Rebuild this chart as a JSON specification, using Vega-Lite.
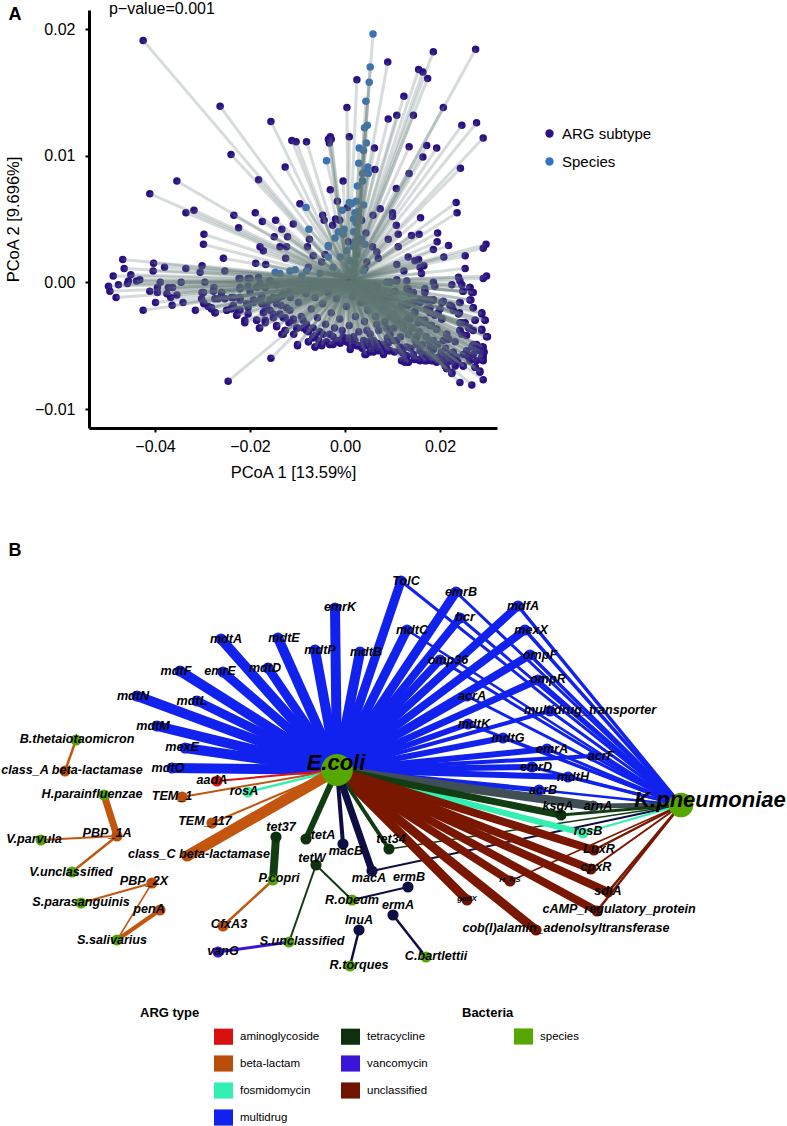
{"$schema":"https://vega.github.io/schema/vega-lite/v6.json","padding":{"left":0,"top":0,"right":0,"bottom":0},"background":"white","config":{"view":{"stroke":null},"font":"Liberation Sans","text":{"font":"Liberation Sans"},"axis":{"labelFont":"Liberation Sans","titleFont":"Liberation Sans"},"legend":{"labelFont":"Liberation Sans","titleFont":"Liberation Sans"}},"spacing":61,"resolve":{"scale":{"color":"independent","fill":"independent"},"legend":{"color":"independent","fill":"independent"}},
"datasets":{
"arg":[{"x":-0.0425,"y":0.0191},{"x":-0.0263,"y":0.0139},{"x":-0.0156,"y":0.0127},{"x":-0.0112,"y":0.0112},{"x":-0.0103,"y":0.0111},{"x":-0.0081,"y":0.0111},{"x":-0.024,"y":0.0101},{"x":-0.0126,"y":0.0091},{"x":-0.0182,"y":0.0081},{"x":-0.0354,"y":0.008},{"x":-0.0411,"y":0.007},{"x":-0.0335,"y":0.0055},{"x":-0.0318,"y":0.0057},{"x":-0.0234,"y":0.0053},{"x":-0.0189,"y":0.0055},{"x":-0.0174,"y":0.0048},{"x":-0.0146,"y":0.0049},{"x":-0.0109,"y":0.0046},{"x":-0.0224,"y":0.0043},{"x":-0.0133,"y":0.0042},{"x":-0.0297,"y":0.0038},{"x":-0.0298,"y":0.003},{"x":-0.0149,"y":0.0036},{"x":-0.0121,"y":0.0036},{"x":-0.0179,"y":0.0028},{"x":-0.0172,"y":0.0025},{"x":-0.0137,"y":0.0028},{"x":-0.0123,"y":0.0028},{"x":-0.0095,"y":0.0062},{"x":-0.0075,"y":0.0034},{"x":-0.0079,"y":0.0028},{"x":-0.0047,"y":0.0053},{"x":-0.0044,"y":0.0049},{"x":-0.0026,"y":0.0045},{"x":-0.002,"y":0.005},{"x":-0.0011,"y":0.0049},{"x":-0.0016,"y":0.0064},{"x":0.0005,"y":0.0059},{"x":-0.0031,"y":0.0073},{"x":-0.0004,"y":0.008},{"x":-0.0035,"y":0.0113},{"x":-0.0031,"y":0.0115},{"x":-0.0033,"y":0.011},{"x":-0.0029,"y":0.0113},{"x":0.0009,"y":0.0115},{"x":0.0004,"y":0.0138},{"x":0.0025,"y":0.016},{"x":0.009,"y":0.0174},{"x":0.0155,"y":0.0168},{"x":0.0164,"y":0.0166},{"x":0.0174,"y":0.0161},{"x":0.0186,"y":0.0182},{"x":0.0275,"y":0.0184},{"x":0.0124,"y":0.0147},{"x":0.0207,"y":0.0138},{"x":0.0091,"y":0.0129},{"x":0.0109,"y":0.0132},{"x":0.0144,"y":0.0132},{"x":0.0246,"y":0.0124},{"x":0.0277,"y":0.0126},{"x":0.0291,"y":0.0114},{"x":0.0062,"y":0.0106},{"x":0.0135,"y":0.0107},{"x":0.0172,"y":0.0108},{"x":0.0193,"y":0.0106},{"x":0.0164,"y":0.0099},{"x":0.0063,"y":0.0089},{"x":0.0135,"y":0.0086},{"x":0.0243,"y":0.009},{"x":0.0108,"y":0.0074},{"x":0.0074,"y":0.0058},{"x":0.0059,"y":0.0053},{"x":0.01,"y":0.0055},{"x":0.01,"y":0.0052},{"x":0.0159,"y":0.0051},{"x":0.0234,"y":0.0063},{"x":0.0236,"y":0.0055},{"x":0.0108,"y":0.0045},{"x":0.0112,"y":0.0038},{"x":0.014,"y":0.0037},{"x":0.0156,"y":0.0038},{"x":0.0195,"y":0.0039},{"x":0.0194,"y":0.0032},{"x":0.0091,"y":0.0034},{"x":0.0112,"y":0.0028},{"x":0.0218,"y":0.0029},{"x":0.0297,"y":0.003},{"x":0.0291,"y":0.0027},{"x":0.0044,"y":0.0039},{"x":0.0035,"y":0.0049},{"x":0.0058,"y":0.0028},{"x":0.0007,"y":0.0032},{"x":-0.0042,"y":0.0022},
{"x":-0.0468,"y":0.0018},{"x":-0.0465,"y":0.0011},{"x":-0.0488,"y":0.0005},{"x":-0.0451,"y":0.0006},{"x":-0.0456,"y":0.0001},{"x":-0.0458,"y":-0.0001},{"x":-0.0477,"y":-0.0002},{"x":-0.0498,"y":-0.0003},{"x":-0.0495,"y":-0.0007},{"x":-0.0482,"y":-0.0012},{"x":-0.0439,"y":0.0001},{"x":-0.0432,"y":0.0002},{"x":-0.0425,"y":-0.0022},{"x":-0.0403,"y":0.0015},{"x":-0.0404,"y":0.0009},{"x":-0.038,"y":0.0012},{"x":-0.0335,"y":0.0011},{"x":-0.0301,"y":0.0013},{"x":-0.0305,"y":0.0008},{"x":-0.0256,"y":0.0019},{"x":-0.0253,"y":0.0009},{"x":-0.0389,"y":0},{"x":-0.0395,"y":-0.0004},{"x":-0.0411,"y":-0.0007},{"x":-0.0395,"y":-0.0008},{"x":-0.0372,"y":-0.0004},{"x":-0.0363,"y":-0.0004},{"x":-0.0375,"y":-0.0009},{"x":-0.0354,"y":-0.001},{"x":-0.0367,"y":-0.0012},{"x":-0.0399,"y":-0.0016},{"x":-0.0364,"y":-0.0018},{"x":-0.0341,"y":-0.0016},{"x":-0.0345,"y":0},{"x":-0.0315,"y":-0.0022},{"x":-0.0295,"y":0},{"x":-0.0301,"y":-0.0008},{"x":-0.0302,"y":-0.0013},{"x":-0.0297,"y":-0.0017},{"x":-0.0288,"y":-0.0019},{"x":-0.0281,"y":-0.0021},{"x":-0.0273,"y":-0.0024},{"x":-0.0277,"y":-0.0007},{"x":-0.026,"y":-0.0008},{"x":-0.0267,"y":-0.0013},{"x":-0.0239,"y":-0.0012},{"x":-0.0249,"y":-0.0022},{"x":-0.0239,"y":-0.0021},{"x":-0.0228,"y":-0.0026},{"x":-0.0221,"y":-0.0022},{"x":-0.0211,"y":-0.003},{"x":-0.0204,"y":-0.002},
{"x":-0.0223,"y":0.0003},{"x":-0.0204,"y":0.0003},{"x":-0.0182,"y":0.0004},{"x":-0.0221,"y":-0.0004},{"x":-0.02,"y":-0.0007},{"x":-0.0179,"y":-0.0001},{"x":-0.0159,"y":0.0001},{"x":-0.0179,"y":-0.0014},{"x":-0.0165,"y":-0.0018},{"x":-0.0186,"y":-0.003},{"x":-0.018,"y":-0.0036},{"x":-0.0168,"y":-0.003},{"x":-0.0144,"y":-0.0035},{"x":-0.013,"y":-0.0041},{"x":-0.0126,"y":-0.0038},{"x":-0.01,"y":-0.0036},{"x":-0.0081,"y":-0.0038},{"x":-0.0077,"y":-0.0047},{"x":-0.01,"y":-0.0049},{"x":-0.0063,"y":-0.0051},{"x":-0.0049,"y":-0.0049},{"x":-0.0156,"y":-0.006},{"x":-0.0246,"y":-0.0078},{"x":-0.0032,"y":-0.0049},{"x":-0.0018,"y":-0.0047},{"x":0.0011,"y":-0.0049},{"x":0.0028,"y":-0.005},{"x":0.0044,"y":-0.0057},{"x":0.0053,"y":-0.0055},{"x":0.0063,"y":-0.0053},{"x":0.007,"y":-0.0054},{"x":0.0088,"y":-0.0053},{"x":0.0095,"y":-0.0054},{"x":0.013,"y":-0.0059},{"x":0.0126,"y":-0.0063},{"x":0.0133,"y":-0.0063},{"x":0.0158,"y":-0.0062},{"x":0.0172,"y":-0.0062},{"x":0.0186,"y":-0.0062},{"x":0.0211,"y":-0.0066},{"x":0.0214,"y":-0.0068},{"x":0.0225,"y":-0.0072},{"x":0.0242,"y":-0.0079},{"x":0.0267,"y":-0.0081},{"x":0.0291,"y":-0.0077},{"x":0.0284,"y":-0.0071},{"x":0.0274,"y":-0.0067},{"x":0.0249,"y":-0.0066},
{"x":0.0298,"y":0.0005},{"x":0.0291,"y":0.0003},{"x":0.0186,"y":0.0026},{"x":0.0253,"y":0.0021},{"x":0.0208,"y":0.002},{"x":0.0155,"y":0.0018},{"x":0.0147,"y":0.0017},{"x":0.0133,"y":0.002},{"x":0.0166,"y":0.0013},{"x":0.0158,"y":0.0012},{"x":0.0161,"y":0.0007},{"x":0.0124,"y":0.0009},{"x":0.0109,"y":0.0014},{"x":0.0067,"y":0.0024},{"x":0.007,"y":0.0019},{"x":0.0046,"y":0.0016},{"x":0.0042,"y":0.0011},{"x":0.0253,"y":0.0011},{"x":0.0239,"y":0.0004},{"x":0.0242,"y":0.0001},{"x":0.0246,"y":-0.0002},{"x":0.0249,"y":-0.0007},{"x":0.0225,"y":-0.0002},{"x":0.0186,"y":0},{"x":0.0189,"y":-0.0003},{"x":0.013,"y":0.0001},{"x":0.0109,"y":0.0002},{"x":0.0095,"y":0},{"x":0.0088,"y":0},{"x":0.0067,"y":-0.0003},{"x":0.0133,"y":-0.0005},{"x":0.0144,"y":-0.0008},{"x":0.0168,"y":-0.0005},{"x":0.0168,"y":-0.0008},{"x":0.0263,"y":-0.0004},{"x":0.0267,"y":-0.0008},{"x":0.0265,"y":-0.0014},{"x":0.0242,"y":-0.0016},{"x":0.0207,"y":-0.0015},{"x":0.0186,"y":-0.0014},{"x":0.0179,"y":-0.0014},{"x":0.0168,"y":-0.0013},{"x":0.0123,"y":-0.0018},{"x":0.013,"y":-0.0017},{"x":0.0144,"y":-0.0016},{"x":0.0158,"y":-0.0016},{"x":0.0147,"y":-0.0023},{"x":0.0172,"y":-0.0021},{"x":0.0196,"y":-0.0024},{"x":0.0204,"y":-0.0029},{"x":0.0225,"y":-0.0019},{"x":0.0241,"y":-0.0024},{"x":0.027,"y":-0.002},{"x":0.0288,"y":-0.0025},{"x":0.0295,"y":-0.003},{"x":0.0274,"y":-0.003},{"x":0.026,"y":-0.0036},{"x":0.0246,"y":-0.0032},{"x":0.0242,"y":-0.0038},{"x":0.0246,"y":-0.0041},{"x":0.0288,"y":-0.0037},{"x":0.03,"y":-0.0043},{"x":0.027,"y":-0.0038},{"x":0.0214,"y":-0.0041},{"x":0.0218,"y":-0.0045},{"x":0.0193,"y":-0.0037},{"x":0.0179,"y":-0.0034},{"x":0.0168,"y":-0.0032},{"x":0.0158,"y":-0.003},{"x":0.0137,"y":-0.0029},{"x":0.0186,"y":-0.0046},{"x":0.0291,"y":-0.0051},{"x":0.0293,"y":-0.0055},{"x":0.0291,"y":-0.0059},{"x":0.0284,"y":-0.0054},{"x":0.027,"y":-0.0057},{"x":0.0267,"y":-0.0051},{"x":0.0277,"y":-0.0049},{"x":0.026,"y":-0.0059},{"x":0.0249,"y":-0.0057},{"x":0.0235,"y":-0.0059},{"x":0.0221,"y":-0.0062},{"x":0.0207,"y":-0.0058},{"x":0.02,"y":-0.0061},{"x":0.0193,"y":-0.0063},{"x":0.0232,"y":-0.0064},{"x":0.0256,"y":-0.0054},{"x":0.0277,"y":-0.0062},{"x":0.0288,"y":-0.0059},{"x":0.0102,"y":-0.0046},{"x":0.0116,"y":-0.0051},{"x":0.0144,"y":-0.0057},{"x":0.0165,"y":-0.0057},{"x":0.0081,"y":-0.0049},{"x":0.006,"y":-0.0046},{"x":0.0039,"y":-0.0046},{"x":0.0018,"y":-0.0043},{"x":-0.0004,"y":-0.0043},{"x":-0.0025,"y":-0.0043},{"x":-0.0046,"y":-0.0041},{"x":-0.0067,"y":-0.0036},{"x":-0.0088,"y":-0.003},{"x":-0.0109,"y":-0.003},{"x":-0.013,"y":-0.0028},{"x":-0.0151,"y":-0.0025},{"x":-0.0172,"y":-0.0024},{"x":-0.0144,"y":-0.0017},{"x":-0.0123,"y":-0.002},{"x":-0.0151,"y":-0.0012},{"x":-0.013,"y":-0.0009},{"x":-0.0193,"y":-0.0016},{"x":-0.0207,"y":-0.0017},{"x":-0.0235,"y":-0.0018},{"x":-0.0221,"y":-0.0014},{"x":-0.0188,"y":0.0015},{"x":-0.0167,"y":0.0014},{"x":-0.0125,"y":0.0019},{"x":-0.0067,"y":0.0021},{"x":-0.0077,"y":0.0012},{"x":-0.0049,"y":0.0016},{"x":0.0081,"y":-0.0014},{"x":0.0102,"y":-0.0025},{"x":0.0123,"y":-0.0036},{"x":0.0151,"y":-0.0043},{"x":0.0179,"y":-0.0051},{"x":0.0088,"y":-0.0036},{"x":0.0067,"y":-0.0033},{"x":0.0046,"y":-0.0038},
{"x":0.0004,"y":-0.0047},{"x":0.0018,"y":-0.0049},{"x":0.0032,"y":-0.005},{"x":0.0042,"y":-0.0057},{"x":0.006,"y":-0.0055},{"x":0.0046,"y":-0.005},{"x":0.0091,"y":-0.0054},{"x":0.0081,"y":-0.0049},{"x":0.0119,"y":-0.0062},{"x":0.0133,"y":-0.0063},{"x":0.013,"y":-0.0058},{"x":0.0151,"y":-0.0061},{"x":0.0168,"y":-0.0062},{"x":0.0182,"y":-0.0062},{"x":0.0214,"y":-0.0068},{"x":0.0225,"y":-0.0071},{"x":0.0232,"y":-0.0066},{"x":0.0249,"y":-0.0066},{"x":0.0274,"y":-0.0067},{"x":0.0284,"y":-0.007},{"x":0.0291,"y":-0.0062},{"x":0.0291,"y":-0.0057},{"x":0.0288,"y":-0.0051},{"x":0.027,"y":-0.0049},{"x":0.0277,"y":-0.0054},{"x":0.0253,"y":-0.0057},{"x":0.0263,"y":-0.0062},{"x":0.0235,"y":-0.0062},{"x":0.0221,"y":-0.0057},{"x":0.0207,"y":-0.0046},{"x":0.0214,"y":-0.0041},{"x":0.0232,"y":-0.0047},{"x":0.0256,"y":-0.0042},{"x":0.0298,"y":-0.0043},{"x":0.0288,"y":-0.0038},{"x":0.0274,"y":-0.003},{"x":0.0295,"y":-0.003},{"x":0.0288,"y":-0.0024},{"x":0.027,"y":-0.002},{"x":0.0263,"y":-0.0014},{"x":0.027,"y":-0.0008},{"x":0.0263,"y":-0.0004},{"x":0.0248,"y":-0.0007},{"x":0.0242,"y":-0.0016},{"x":0.0239,"y":-0.0025},{"x":0.0253,"y":-0.0032},{"x":0.0262,"y":-0.0036},{"x":0.0242,"y":-0.0032},{"x":0.0242,"y":-0.0038},{"x":0.0228,"y":-0.0022},{"x":0.0221,"y":-0.0018},{"x":0.0204,"y":-0.0016},{"x":0.02,"y":-0.0021},{"x":0.0179,"y":-0.002},{"x":0.0179,"y":-0.0024},{"x":0.0189,"y":-0.0026},{"x":0.0204,"y":-0.0029},{"x":0.0193,"y":-0.0037},{"x":0.0182,"y":-0.0034},{"x":0.0168,"y":-0.003},{"x":0.0154,"y":-0.0032},{"x":0.0147,"y":-0.0024},{"x":0.0133,"y":-0.0028},{"x":0.0119,"y":-0.0018},{"x":0.0133,"y":-0.0018},{"x":0.0144,"y":-0.0016},{"x":0.0158,"y":-0.0014},{"x":0.0172,"y":-0.0014},{"x":0.0186,"y":-0.0014},{"x":0.0168,"y":-0.0007},{"x":0.0137,"y":-0.0009},{"x":0.013,"y":-0.0005},{"x":0.0109,"y":0.0001},{"x":0.0105,"y":-0.0007},{"x":0.0081,"y":-0.0011},{"x":0.0095,"y":-0.0012},{"x":0.0067,"y":-0.0003},{"x":0.0095,"y":-0.0041},{"x":0.0109,"y":-0.0046},{"x":0.013,"y":-0.0051},{"x":0.0158,"y":-0.0054},{"x":0.0175,"y":-0.0057},{"x":0.0193,"y":-0.0061},{"x":0.0207,"y":-0.0063},{"x":0.0151,"y":-0.0049},{"x":0.0116,"y":-0.0054},{"x":0.0081,"y":-0.0057},{"x":0.006,"y":-0.005},{"x":0.0025,"y":-0.005},{"x":0.0011,"y":-0.0053},{"x":-0.001,"y":-0.0048},
{"x":-0.0276,"y":-0.0004},{"x":-0.0298,"y":-0.0008},{"x":-0.026,"y":-0.0008},{"x":-0.0253,"y":-0.0013},{"x":-0.0274,"y":-0.0013},{"x":-0.0298,"y":-0.0016},{"x":-0.0281,"y":-0.002},{"x":-0.0274,"y":-0.0024},{"x":-0.0249,"y":-0.0022},{"x":-0.0239,"y":-0.002},{"x":-0.0225,"y":-0.0022},{"x":-0.0228,"y":-0.0026},{"x":-0.0204,"y":-0.0025},{"x":-0.0211,"y":-0.0032},{"x":-0.0235,"y":-0.0012},{"x":-0.0221,"y":-0.0012},{"x":-0.0221,"y":-0.0005},{"x":-0.0204,"y":-0.0003},{"x":-0.0221,"y":0.0003},{"x":-0.02,"y":0.0003},{"x":-0.0158,"y":0.0001},{"x":-0.0186,"y":-0.0004},{"x":-0.0168,"y":-0.0004},{"x":-0.0144,"y":-0.0002},{"x":-0.0175,"y":-0.0011},{"x":-0.0193,"y":-0.0014},{"x":-0.0175,"y":-0.0017},{"x":-0.0158,"y":-0.0014},{"x":-0.014,"y":-0.0012},{"x":-0.0133,"y":-0.0011},{"x":-0.0116,"y":-0.0007},{"x":-0.0186,"y":-0.003},{"x":-0.0168,"y":-0.0032},{"x":-0.018,"y":-0.0036},{"x":-0.0144,"y":-0.0034},{"x":-0.0126,"y":-0.0038},{"x":-0.0133,"y":-0.0041},{"x":-0.0102,"y":-0.0036},{"x":-0.0081,"y":-0.0033},{"x":-0.0077,"y":-0.0039},{"x":-0.0063,"y":-0.0042},{"x":-0.01,"y":-0.005},{"x":-0.0077,"y":-0.0047},{"x":-0.0063,"y":-0.0051},{"x":-0.0049,"y":-0.005},{"x":-0.0032,"y":-0.0049},{"x":-0.0018,"y":-0.0046},{"x":0.0004,"y":-0.0047},{"x":-0.0158,"y":-0.0022},{"x":-0.0137,"y":-0.0025},{"x":-0.0116,"y":-0.0022},{"x":-0.0088,"y":-0.0036},{"x":-0.0053,"y":-0.0039},{"x":-0.0032,"y":-0.0041},{"x":-0.0168,"y":-0.0022},{"x":-0.0151,"y":-0.0028},{"x":-0.0126,"y":-0.0028},{"x":-0.0109,"y":-0.0029},
{"x":-0.0115,"y":-0.0012},{"x":-0.0098,"y":-0.0016},{"x":-0.0082,"y":-0.0009},{"x":-0.0071,"y":-0.0021},{"x":-0.0063,"y":-0.0012},{"x":-0.0058,"y":-0.0028},{"x":-0.0047,"y":-0.0017},{"x":-0.0041,"y":-0.0033},{"x":-0.0036,"y":-0.0008},{"x":-0.0029,"y":-0.0024},{"x":-0.0022,"y":-0.0036},{"x":-0.0018,"y":-0.0013},{"x":-0.0011,"y":-0.0029},{"x":-0.0006,"y":-0.0038},{"x":0.0003,"y":-0.0019},{"x":0.0009,"y":-0.0034},{"x":0.0016,"y":-0.0011},{"x":0.0022,"y":-0.0027},{"x":0.0029,"y":-0.0039},{"x":0.0034,"y":-0.0016},{"x":0.0041,"y":-0.0031},{"x":0.0048,"y":-0.0022},{"x":0.0053,"y":-0.0041},{"x":0.0059,"y":-0.0012},{"x":0.0064,"y":-0.0027},{"x":0.0071,"y":-0.0038},{"x":0.0077,"y":-0.0021},{"x":0.0084,"y":-0.0031},{"x":0.0089,"y":-0.0044},{"x":0.0096,"y":-0.0027},{"x":0.0103,"y":-0.0036},{"x":0.0111,"y":-0.0031},{"x":0.0117,"y":-0.0043},{"x":0.0126,"y":-0.0031},{"x":0.0134,"y":-0.0041},{"x":0.0141,"y":-0.0036},{"x":0.0148,"y":-0.0046},{"x":0.0156,"y":-0.0039},{"x":0.0163,"y":-0.0049},{"x":0.0171,"y":-0.0043},{"x":0.0178,"y":-0.0047},{"x":0.0186,"y":-0.0053},{"x":0.0195,"y":-0.0049},{"x":0.0203,"y":-0.0055},{"x":0.0212,"y":-0.0052},{"x":0.0219,"y":-0.0059},{"x":0.0228,"y":-0.0055},{"x":0.0238,"y":-0.0063},{"x":-0.0108,"y":-0.0041},{"x":-0.0092,"y":-0.0027},{"x":-0.0135,"y":-0.0018},{"x":-0.0118,"y":-0.0032},{"x":-0.0068,"y":-0.0044},{"x":-0.0055,"y":-0.0046},{"x":-0.0039,"y":-0.0047},{"x":-0.0025,"y":-0.0049},{"x":-0.0012,"y":-0.0046},{"x":0.0008,"y":-0.0044},{"x":0.0021,"y":-0.0046},{"x":0.0036,"y":-0.0052},{"x":0.0049,"y":-0.0047},{"x":0.0068,"y":-0.0048},{"x":0.0074,"y":-0.0052},{"x":0.0091,"y":-0.0048},{"x":0.0104,"y":-0.0055},{"x":0.0122,"y":-0.0056},{"x":0.0139,"y":-0.0052},{"x":0.0146,"y":-0.0061},{"x":0.0163,"y":-0.0058},{"x":0.0181,"y":-0.0057},{"x":0.0197,"y":-0.0059},{"x":0.0216,"y":-0.0063}],
"species":[{"x":0.0059,"y":0.0196},{"x":0.0053,"y":0.017},{"x":0.0051,"y":0.0158},{"x":0.0044,"y":0.0143},{"x":0.0047,"y":0.0124},{"x":0.0041,"y":0.0122},{"x":0.0045,"y":0.011},{"x":0.003,"y":0.0106},{"x":0.0039,"y":0.0104},{"x":0.0029,"y":0.0094},{"x":-0.0039,"y":0.0096},{"x":0.0048,"y":0.0091},{"x":0.0037,"y":0.0086},{"x":0.0049,"y":0.0086},{"x":0.0042,"y":0.0087},{"x":0.0037,"y":0.008},{"x":0.0026,"y":0.0076},{"x":0.0023,"y":0.0064},{"x":0.0009,"y":0.0063},{"x":0.0014,"y":0.0062},{"x":0.0039,"y":0.0061},{"x":-0.0082,"y":0.0059},{"x":-0.0006,"y":0.0057},{"x":0.0021,"y":0.0055},{"x":0.0028,"y":0.0056},{"x":0.0025,"y":0.0053},{"x":0.003,"y":0.0051},{"x":0.0018,"y":0.005},{"x":0.0023,"y":0.0047},{"x":0.0028,"y":0.0049},{"x":-0.0076,"y":0.0042},{"x":-0.0002,"y":0.0042},{"x":-0.0014,"y":0.004},{"x":-0.0004,"y":0.0038},{"x":0.0018,"y":0.004},{"x":-0.0021,"y":0.0035},{"x":0.0028,"y":0.0035},{"x":0.0035,"y":0.0034},{"x":0.0021,"y":0.0032},{"x":0.0042,"y":0.003},{"x":-0.0035,"y":0.0028},{"x":-0.0147,"y":0.0008},{"x":-0.0137,"y":0.0007},{"x":-0.0116,"y":0.0009},{"x":-0.0105,"y":0.001},{"x":-0.0091,"y":0.0005},{"x":-0.0081,"y":0.0009},{"x":-0.0053,"y":0.0007},{"x":-0.0035,"y":0.002},{"x":-0.0035,"y":0.0029},{"x":-0.001,"y":0.002},{"x":0.0004,"y":0.0025},{"x":0.0018,"y":0.0028},{"x":0.0028,"y":0.0032},{"x":0.0039,"y":0.0009},{"x":-0.0025,"y":0.0012},{"x":0.0011,"y":0.0017},{"x":0.0025,"y":0.0022}],
"nodes":[
{"id":"E.coli","t":"species","deg":60,"x":337,"y":767,"lx":336,"ly":760},
{"id":"K.pneumoniae","t":"species","deg":33,"x":681,"y":802,"lx":710,"ly":797},
{"id":"B.thetaiotaomicron","t":"species","deg":1,"x":76,"y":737,"lx":77,"ly":736},
{"id":"H.parainfluenzae","t":"species","deg":1,"x":104,"y":792,"lx":92,"ly":791},
{"id":"V.parvula","t":"species","deg":1,"x":41,"y":837,"lx":34,"ly":836},
{"id":"V.unclassified","t":"species","deg":1,"x":72,"y":869,"lx":71,"ly":869},
{"id":"S.parasanguinis","t":"species","deg":1,"x":81,"y":900,"lx":81,"ly":899},
{"id":"S.salivarius","t":"species","deg":1,"x":117,"y":937,"lx":112,"ly":937},
{"id":"P.copri","t":"species","deg":1,"x":273,"y":877,"lx":279,"ly":875},
{"id":"S.unclassified","t":"species","deg":1,"x":289,"y":939,"lx":302,"ly":938},
{"id":"R.obeum","t":"species","deg":1,"x":352,"y":897,"lx":352,"ly":897},
{"id":"R.torques","t":"species","deg":1,"x":350,"y":963,"lx":359,"ly":962},
{"id":"C.bartlettii","t":"species","deg":1,"x":426,"y":954,"lx":436,"ly":953},
{"id":"mdtO","t":"multidrug","deg":1,"x":172,"y":765,"lx":168,"ly":765},
{"id":"mexE","t":"multidrug","deg":1,"x":185,"y":745,"lx":182,"ly":744},
{"id":"mdtM","t":"multidrug","deg":1,"x":157,"y":723,"lx":153,"ly":723},
{"id":"mdtN","t":"multidrug","deg":1,"x":137,"y":693,"lx":133,"ly":693},
{"id":"mdtL","t":"multidrug","deg":1,"x":197,"y":698,"lx":192,"ly":698},
{"id":"mdtF","t":"multidrug","deg":1,"x":180,"y":668,"lx":176,"ly":668},
{"id":"emrE","t":"multidrug","deg":1,"x":223,"y":669,"lx":220,"ly":668},
{"id":"mdtD","t":"multidrug","deg":1,"x":268,"y":665,"lx":265,"ly":665},
{"id":"mdtA","t":"multidrug","deg":1,"x":221,"y":636,"lx":226,"ly":636},
{"id":"mdtE","t":"multidrug","deg":1,"x":278,"y":635,"lx":284,"ly":635},
{"id":"mdtP","t":"multidrug","deg":1,"x":315,"y":647,"lx":320,"ly":647},
{"id":"mdtB","t":"multidrug","deg":1,"x":360,"y":649,"lx":366,"ly":649},
{"id":"emrK","t":"multidrug","deg":1,"x":335,"y":605,"lx":340,"ly":604},
{"id":"TolC","t":"multidrug","deg":1,"x":401,"y":578,"lx":406,"ly":578},
{"id":"mdtC","t":"multidrug","deg":1,"x":407,"y":627,"lx":412,"ly":627},
{"id":"emrB","t":"multidrug","deg":1,"x":456,"y":589,"lx":461,"ly":589},
{"id":"bcr","t":"multidrug","deg":1,"x":460,"y":615,"lx":465,"ly":614},
{"id":"mdfA","t":"multidrug","deg":1,"x":518,"y":603,"lx":523,"ly":603},
{"id":"mexX","t":"multidrug","deg":1,"x":525,"y":627,"lx":531,"ly":627},
{"id":"omp36","t":"multidrug","deg":1,"x":440,"y":657,"lx":448,"ly":657},
{"id":"ompF","t":"multidrug","deg":1,"x":530,"y":652,"lx":540,"ly":652},
{"id":"ompR","t":"multidrug","deg":1,"x":538,"y":677,"lx":548,"ly":676},
{"id":"acrA","t":"multidrug","deg":1,"x":467,"y":693,"lx":472,"ly":693},
{"id":"multidrug_transporter","t":"multidrug","deg":1,"x":550,"y":708,"lx":590,"ly":707},
{"id":"mdtK","t":"multidrug","deg":1,"x":468,"y":721,"lx":474,"ly":721},
{"id":"mdtG","t":"multidrug","deg":1,"x":503,"y":735,"lx":508,"ly":735},
{"id":"emrA","t":"multidrug","deg":1,"x":547,"y":746,"lx":552,"ly":746},
{"id":"acrF","t":"multidrug","deg":1,"x":593,"y":753,"lx":601,"ly":753},
{"id":"emrD","t":"multidrug","deg":1,"x":532,"y":764,"lx":536,"ly":764},
{"id":"mdtH","t":"multidrug","deg":1,"x":568,"y":774,"lx":573,"ly":774},
{"id":"acrB","t":"multidrug","deg":1,"x":539,"y":787,"lx":543,"ly":787},
{"id":"ksgA","t":"tetracycline","deg":1,"x":561,"y":812,"lx":558,"ly":803},
{"id":"arnA","t":"peptide","deg":1,"x":593,"y":803,"lx":598,"ly":803},
{"id":"rosB","t":"fosmidomycin","deg":1,"x":583,"y":830,"lx":588,"ly":828},
{"id":"LuxR","t":"unclassified","deg":1,"x":594,"y":847,"lx":599,"ly":846},
{"id":"cpxR","t":"unclassified","deg":1,"x":591,"y":866,"lx":596,"ly":864},
{"id":"sdiA","t":"unclassified","deg":1,"x":608,"y":889,"lx":608,"ly":888},
{"id":"cAMP_regulatory_protein","t":"unclassified","deg":1,"x":597,"y":908,"lx":619,"ly":906},
{"id":"cob(I)alamin_adenolsyltransferase","t":"unclassified","deg":1,"x":536,"y":927,"lx":566,"ly":925},
{"id":"H_NS","t":"unclassified","deg":1,"x":510,"y":878,"lx":510,"ly":877},
{"id":"gadX","t":"unclassified","deg":1,"x":467,"y":897,"lx":467,"ly":896},
{"id":"tet34","t":"tetracycline","deg":1,"x":389,"y":846,"lx":391,"ly":836},
{"id":"macA","t":"macrolide","deg":1,"x":372,"y":868,"lx":369,"ly":875},
{"id":"macB","t":"macrolide","deg":1,"x":343,"y":841,"lx":346,"ly":848},
{"id":"ermB","t":"macrolide","deg":1,"x":408,"y":884,"lx":409,"ly":874},
{"id":"ermA","t":"macrolide","deg":1,"x":393,"y":912,"lx":398,"ly":902},
{"id":"InuA","t":"macrolide","deg":1,"x":359,"y":927,"lx":359,"ly":917},
{"id":"tetW","t":"tetracycline","deg":1,"x":316,"y":862,"lx":312,"ly":855},
{"id":"tetA","t":"tetracycline","deg":1,"x":306,"y":836,"lx":323,"ly":832},
{"id":"tet37","t":"tetracycline","deg":1,"x":276,"y":834,"lx":281,"ly":824},
{"id":"CfxA3","t":"beta-lactam","deg":1,"x":223,"y":923,"lx":229,"ly":921},
{"id":"vanG","t":"vancomycin","deg":1,"x":218,"y":949,"lx":223,"ly":948},
{"id":"class_C beta-lactamase","t":"beta-lactam","deg":1,"x":187,"y":853,"lx":199,"ly":851},
{"id":"TEM_117","t":"beta-lactam","deg":1,"x":212,"y":820,"lx":205,"ly":818},
{"id":"TEM_1","t":"beta-lactam","deg":1,"x":182,"y":794,"lx":172,"ly":793},
{"id":"aadA","t":"aminoglycoside","deg":1,"x":217,"y":778,"lx":212,"ly":777},
{"id":"rosA","t":"fosmidomycin","deg":1,"x":248,"y":789,"lx":244,"ly":788},
{"id":"class_A beta-lactamase","t":"beta-lactam","deg":1,"x":65,"y":768,"lx":72,"ly":767},
{"id":"PBP_1A","t":"beta-lactam","deg":1,"x":117,"y":833,"lx":107,"ly":830},
{"id":"PBP_2X","t":"beta-lactam","deg":1,"x":152,"y":880,"lx":144,"ly":878},
{"id":"penA","t":"beta-lactam","deg":1,"x":160,"y":907,"lx":149,"ly":906}],
"edges":[
{"a":"E.coli","b":"mdtO","t":"multidrug","w":10},{"a":"E.coli","b":"mexE","t":"multidrug","w":10},{"a":"E.coli","b":"mdtM","t":"multidrug","w":10},{"a":"E.coli","b":"mdtN","t":"multidrug","w":10},{"a":"E.coli","b":"mdtL","t":"multidrug","w":9},{"a":"E.coli","b":"mdtF","t":"multidrug","w":10},{"a":"E.coli","b":"emrE","t":"multidrug","w":9},{"a":"E.coli","b":"mdtD","t":"multidrug","w":9},{"a":"E.coli","b":"mdtA","t":"multidrug","w":10},{"a":"E.coli","b":"mdtE","t":"multidrug","w":10},{"a":"E.coli","b":"mdtP","t":"multidrug","w":10},{"a":"E.coli","b":"mdtB","t":"multidrug","w":10},{"a":"E.coli","b":"emrK","t":"multidrug","w":10},{"a":"E.coli","b":"TolC","t":"multidrug","w":9},{"a":"E.coli","b":"mdtC","t":"multidrug","w":9},{"a":"E.coli","b":"emrB","t":"multidrug","w":9},{"a":"E.coli","b":"bcr","t":"multidrug","w":8},{"a":"E.coli","b":"mdfA","t":"multidrug","w":8},{"a":"E.coli","b":"mexX","t":"multidrug","w":8},{"a":"E.coli","b":"omp36","t":"multidrug","w":8},{"a":"E.coli","b":"ompF","t":"multidrug","w":8},{"a":"E.coli","b":"ompR","t":"multidrug","w":7},{"a":"E.coli","b":"acrA","t":"multidrug","w":7},{"a":"E.coli","b":"multidrug_transporter","t":"multidrug","w":4},{"a":"E.coli","b":"mdtK","t":"multidrug","w":6},{"a":"E.coli","b":"mdtG","t":"multidrug","w":6},{"a":"E.coli","b":"emrA","t":"multidrug","w":6},{"a":"E.coli","b":"acrF","t":"multidrug","w":4},{"a":"E.coli","b":"emrD","t":"multidrug","w":6},{"a":"E.coli","b":"mdtH","t":"multidrug","w":6},{"a":"E.coli","b":"acrB","t":"multidrug","w":5},
{"a":"K.pneumoniae","b":"TolC","t":"multidrug","w":3},{"a":"K.pneumoniae","b":"mdtC","t":"multidrug","w":2.5},{"a":"K.pneumoniae","b":"emrB","t":"multidrug","w":3},{"a":"K.pneumoniae","b":"bcr","t":"multidrug","w":3},{"a":"K.pneumoniae","b":"mdfA","t":"multidrug","w":3.5},{"a":"K.pneumoniae","b":"mexX","t":"multidrug","w":3.5},{"a":"K.pneumoniae","b":"omp36","t":"multidrug","w":3},{"a":"K.pneumoniae","b":"ompF","t":"multidrug","w":3.5},{"a":"K.pneumoniae","b":"ompR","t":"multidrug","w":3.5},{"a":"K.pneumoniae","b":"acrA","t":"multidrug","w":3},{"a":"K.pneumoniae","b":"multidrug_transporter","t":"multidrug","w":3},{"a":"K.pneumoniae","b":"mdtK","t":"multidrug","w":3},{"a":"K.pneumoniae","b":"mdtG","t":"multidrug","w":3},{"a":"K.pneumoniae","b":"emrA","t":"multidrug","w":3},{"a":"K.pneumoniae","b":"acrF","t":"multidrug","w":3},{"a":"K.pneumoniae","b":"emrD","t":"multidrug","w":3},{"a":"K.pneumoniae","b":"mdtH","t":"multidrug","w":3},{"a":"K.pneumoniae","b":"acrB","t":"multidrug","w":2.5},
{"a":"E.coli","b":"arnA","t":"peptide","w":9},{"a":"K.pneumoniae","b":"arnA","t":"peptide","w":5},{"a":"K.pneumoniae","b":"macA","t":"macrolide","w":2},{"a":"K.pneumoniae","b":"tet34","t":"tetracycline","w":1.5},{"a":"E.coli","b":"rosB","t":"fosmidomycin","w":6},{"a":"K.pneumoniae","b":"rosB","t":"fosmidomycin","w":2},{"a":"E.coli","b":"ksgA","t":"tetracycline","w":7},{"a":"K.pneumoniae","b":"ksgA","t":"tetracycline","w":3},
{"a":"E.coli","b":"LuxR","t":"unclassified","w":8},{"a":"E.coli","b":"cpxR","t":"unclassified","w":8},{"a":"E.coli","b":"sdiA","t":"unclassified","w":8},{"a":"E.coli","b":"cAMP_regulatory_protein","t":"unclassified","w":8},{"a":"E.coli","b":"cob(I)alamin_adenolsyltransferase","t":"unclassified","w":9},{"a":"E.coli","b":"H_NS","t":"unclassified","w":8},{"a":"E.coli","b":"gadX","t":"unclassified","w":9},{"a":"K.pneumoniae","b":"LuxR","t":"unclassified","w":2.5},{"a":"K.pneumoniae","b":"cpxR","t":"unclassified","w":2},{"a":"K.pneumoniae","b":"sdiA","t":"unclassified","w":2.5},{"a":"K.pneumoniae","b":"cAMP_regulatory_protein","t":"unclassified","w":2.5},{"a":"K.pneumoniae","b":"H_NS","t":"unclassified","w":1.5},
{"a":"E.coli","b":"tet34","t":"tetracycline","w":4},{"a":"E.coli","b":"macA","t":"macrolide","w":7},{"a":"E.coli","b":"macB","t":"macrolide","w":4},{"a":"E.coli","b":"tetA","t":"tetracycline","w":6},{"a":"P.copri","b":"tet37","t":"tetracycline","w":8},{"a":"S.unclassified","b":"tetW","t":"tetracycline","w":2},{"a":"R.obeum","b":"tetW","t":"tetracycline","w":2},{"a":"R.obeum","b":"ermB","t":"macrolide","w":2},{"a":"C.bartlettii","b":"ermA","t":"macrolide","w":2.5},{"a":"R.torques","b":"InuA","t":"macrolide","w":2.5},{"a":"P.copri","b":"CfxA3","t":"beta-lactam","w":2.5},{"a":"S.unclassified","b":"vanG","t":"vancomycin","w":3},
{"a":"E.coli","b":"aadA","t":"aminoglycoside","w":2},{"a":"E.coli","b":"TEM_1","t":"beta-lactam","w":2},{"a":"E.coli","b":"rosA","t":"fosmidomycin","w":2.5},{"a":"E.coli","b":"TEM_117","t":"beta-lactam","w":2},{"a":"E.coli","b":"class_C beta-lactamase","t":"beta-lactam","w":11},{"a":"B.thetaiotaomicron","b":"class_A beta-lactamase","t":"beta-lactam","w":2.5},{"a":"H.parainfluenzae","b":"PBP_1A","t":"beta-lactam","w":7},{"a":"V.parvula","b":"PBP_1A","t":"beta-lactam","w":2},{"a":"V.unclassified","b":"PBP_1A","t":"beta-lactam","w":2.5},{"a":"S.parasanguinis","b":"PBP_2X","t":"beta-lactam","w":2},{"a":"S.salivarius","b":"PBP_2X","t":"beta-lactam","w":1.5},{"a":"S.salivarius","b":"penA","t":"beta-lactam","w":4}],
"headsA":[{"x":-0.0497,"y":0.0216,"label":"p−value=0.001"}],"tagA":[{"x":-0.0695,"y":0.0211,"label":"A"}],"tagB":[{"x":15,"y":548,"label":"B"}]
},
"vconcat":[
{"width":408,"height":418,
"layer":[
{"data":{"name":"arg"},"mark":{"type":"circle","opacity":1,"size":56},"encoding":{
"x":{"field":"x","type":"quantitative","scale":{"domain":[-0.0539,0.032],"nice":false,"zero":false},"axis":{"values":[-0.04,-0.02,0,0.02],"format":".2f","title":"PCoA 1 [13.59%]","grid":false,"domainWidth":3,"domainColor":"black","tickColor":"black","tickWidth":2,"tickSize":4,"labelFontSize":16,"labelColor":"black","titleFontSize":16.5,"titleFontWeight":"normal","titleColor":"black","labelPadding":6,"titlePadding":10}},
"y":{"field":"y","type":"quantitative","scale":{"domain":[-0.0115,0.0215],"nice":false,"zero":false},"axis":{"values":[-0.01,0,0.01,0.02],"format":".2f","title":"PCoA 2 [9.696%]","grid":false,"domainWidth":3,"domainColor":"black","tickColor":"black","tickWidth":2,"tickSize":4,"labelFontSize":16,"labelColor":"black","titleFontSize":16.5,"titleFontWeight":"normal","titleColor":"black","labelPadding":10,"titlePadding":13}},
"color":{"datum":"ARG subtype","scale":{"domain":["ARG subtype","Species"],"range":["#2a0f85","#3572c0"]},"legend":{"title":null,"orient":"none","legendX":453,"legendY":116,"labelFontSize":15,"labelColor":"black","symbolSize":70,"rowPadding":12,"labelOffset":5,"symbolType":"circle"}}}},
{"data":{"name":"species"},"mark":{"type":"circle","opacity":1,"size":56},"encoding":{"x":{"field":"x","type":"quantitative"},"y":{"field":"y","type":"quantitative"},"color":{"datum":"Species"}}},
{"data":{"name":"arg"},"mark":{"type":"rule","color":"#5f7675","opacity":0.26,"strokeWidth":3},"encoding":{"x":{"field":"x","type":"quantitative"},"y":{"field":"y","type":"quantitative"},"x2":{"datum":0.0007},"y2":{"datum":0.0001}}},
{"data":{"name":"species"},"mark":{"type":"rule","color":"#5f7675","opacity":0.26,"strokeWidth":3},"encoding":{"x":{"field":"x","type":"quantitative"},"y":{"field":"y","type":"quantitative"},"x2":{"datum":0.002},"y2":{"datum":0.0005}}},
{"data":{"name":"headsA"},"mark":{"type":"text","align":"left","baseline":"middle","fontSize":16,"color":"black"},"encoding":{"x":{"field":"x","type":"quantitative"},"y":{"field":"y","type":"quantitative"},"text":{"field":"label"}}},
{"data":{"name":"tagA"},"mark":{"type":"text","align":"center","baseline":"middle","fontSize":18,"fontWeight":"bold","color":"black"},"encoding":{"x":{"field":"x","type":"quantitative"},"y":{"field":"y","type":"quantitative"},"text":{"field":"label"}}}
]},
{"width":698,"height":586,
"layer":[
{"data":{"name":"edges"},"transform":[{"lookup":"a","from":{"data":{"name":"nodes"},"key":"id","fields":["x","y"]},"as":["x1","y1"]},{"lookup":"b","from":{"data":{"name":"nodes"},"key":"id","fields":["x","y"]},"as":["x2","y2"]}],"mark":{"type":"rule"},"encoding":{
"x":{"field":"x1","type":"quantitative","scale":{"domain":[89,787],"nice":false,"zero":false},"axis":null},
"y":{"field":"y1","type":"quantitative","scale":{"domain":[1126,540],"nice":false,"zero":false},"axis":null},
"x2":{"field":"x2"},"y2":{"field":"y2"},
"stroke":{"field":"t","type":"nominal","scale":{"domain":["aminoglycoside","beta-lactam","fosmidomycin","multidrug","tetracycline","vancomycin","unclassified","macrolide","peptide"],"range":["#e01010","#c2560f","#33f0b0","#1122ee","#123d12","#3a14d8","#7a1700","#0e0e42","#3f4f55"]},"legend":null},
"strokeWidth":{"field":"w","type":"quantitative","scale":{"domain":[0,12],"range":[0,12]},"legend":null}}},
{"data":{"name":"nodes"},"transform":[{"filter":"datum.t !== 'species'"}],"mark":{"type":"circle","opacity":1},"encoding":{
"x":{"field":"x","type":"quantitative"},"y":{"field":"y","type":"quantitative"},
"size":{"value":125},
"color":{"field":"t","type":"nominal","scale":{"domain":["aminoglycoside","beta-lactam","fosmidomycin","multidrug","tetracycline","vancomycin","unclassified","macrolide","peptide"],"range":["#d81010","#b84e0a","#33f0b0","#1122ee","#0f300f","#3a14d8","#701400","#0e0e42","#3f4f55"]},"legend":{"title":"ARG type","orient":"none","legendX":51,"legendY":484,"titleOrient":"left","titleAnchor":"start","titleBaseline":"line-bottom","titleLineHeight":28,"titleFontSize":13,"titleFontWeight":"bold","titleColor":"black","titlePadding":14,"labelFontSize":11.5,"labelColor":"black","columns":2,"columnPadding":21,"rowPadding":9,"symbolType":"M-1,-0.85H1V0.85H-1Z","symbolSize":361,"symbolStrokeWidth":0,"symbolOpacity":1,"labelOffset":7,"values":["aminoglycoside","beta-lactam","fosmidomycin","multidrug","tetracycline","vancomycin","unclassified"]}}}},
{"data":{"name":"nodes"},"transform":[{"filter":"datum.t === 'species'"}],"mark":{"type":"circle","opacity":1},"encoding":{
"x":{"field":"x","type":"quantitative"},"y":{"field":"y","type":"quantitative"},
"size":{"field":"deg","type":"quantitative","scale":{"domain":[1,60],"range":[125,1018]},"legend":null},
"fill":{"field":"t","type":"nominal","scale":{"domain":["species"],"range":["#56a800"]},"legend":{"title":"Bacteria","orient":"none","legendX":373,"legendY":484,"titleOrient":"left","titleAnchor":"start","titleBaseline":"line-bottom","titleLineHeight":28,"titleFontSize":13,"titleFontWeight":"bold","titleColor":"black","titlePadding":0,"labelFontSize":11.5,"labelColor":"black","symbolType":"M-1,-0.85H1V0.85H-1Z","symbolSize":361,"symbolStrokeWidth":0,"symbolOpacity":1,"labelOffset":7}}}},
{"data":{"name":"nodes"},"transform":[{"filter":"datum.deg === 1 && datum.id !== 'H_NS' && datum.id !== 'gadX'"}],"mark":{"type":"text","fontSize":12.6,"fontWeight":"bold","fontStyle":"italic","color":"black","baseline":"middle"},"encoding":{"x":{"field":"lx","type":"quantitative"},"y":{"field":"ly","type":"quantitative"},"text":{"field":"id"}}},
{"data":{"name":"nodes"},"transform":[{"filter":"datum.deg > 1"}],"mark":{"type":"text","fontSize":22,"fontWeight":"bold","fontStyle":"italic","color":"black","baseline":"middle"},"encoding":{"x":{"field":"lx","type":"quantitative"},"y":{"field":"ly","type":"quantitative"},"text":{"field":"id"}}},
{"data":{"name":"nodes"},"transform":[{"filter":"datum.id === 'H_NS' || datum.id === 'gadX'"}],"mark":{"type":"text","fontSize":8,"fontWeight":"bold","fontStyle":"italic","color":"black","baseline":"middle"},"encoding":{"x":{"field":"lx","type":"quantitative"},"y":{"field":"ly","type":"quantitative"},"text":{"field":"id"}}},
{"data":{"name":"tagB"},"mark":{"type":"text","align":"center","baseline":"middle","fontSize":18,"fontWeight":"bold","color":"black"},"encoding":{"x":{"field":"x","type":"quantitative"},"y":{"field":"y","type":"quantitative"},"text":{"field":"label"}}}
]}
]}
